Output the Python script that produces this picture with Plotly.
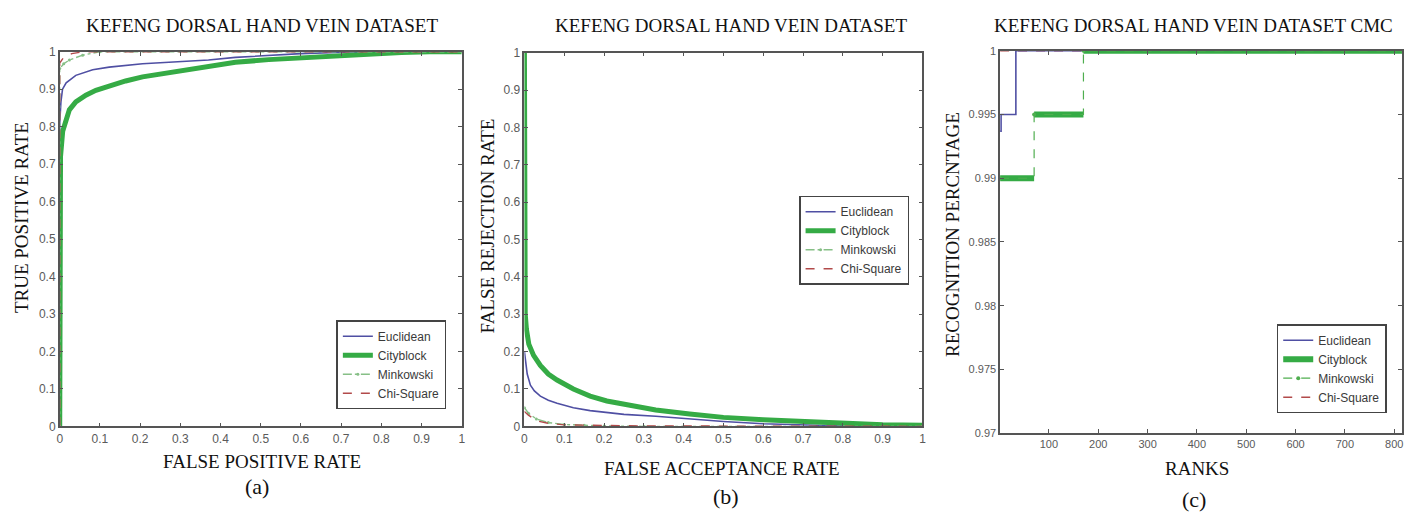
import plotly.graph_objects as go

# ---------------- data ----------------
# Panel (a): ROC
roc_euc_fpr = [0, 0, 0.003, 0.007, 0.016, 0.04, 0.082, 0.123, 0.206, 0.288, 0.37, 0.437, 0.52, 0.6, 0.69, 0.8, 1.0]
roc_euc_tpr = [0, 0.81, 0.866, 0.9, 0.917, 0.937, 0.952, 0.959, 0.968, 0.972, 0.978, 0.985, 0.991, 0.995, 0.998, 1.0, 1.0]
roc_city_fpr = [0, 0, 0.002, 0.0074, 0.016, 0.024, 0.04, 0.065, 0.09, 0.123, 0.164, 0.206, 0.288, 0.37, 0.437, 0.52, 0.6, 0.69, 0.77, 0.85, 0.92, 1.0]
roc_city_tpr = [0, 0.6, 0.72, 0.788, 0.823, 0.845, 0.866, 0.884, 0.897, 0.909, 0.922, 0.933, 0.948, 0.96, 0.972, 0.979, 0.984, 0.988, 0.994, 0.998, 1.0, 1.0]
roc_mink_fpr = [0, 0, 0.01, 0.024, 0.057, 0.1, 1.0]
roc_mink_tpr = [0, 0.955, 0.968, 0.978, 0.991, 1.0, 1.0]
roc_chi_fpr = [0, 0, 0.01, 0.03, 0.06, 1.0]
roc_chi_tpr = [0, 0.97, 0.985, 0.995, 1.0, 1.0]

# Panel (b): FRR vs FAR
det_euc_far = [0, 0.003, 0.007, 0.015, 0.025, 0.04, 0.06, 0.082, 0.123, 0.165, 0.207, 0.25, 0.33, 0.415, 0.5, 0.6, 0.7, 0.8, 1.0]
det_euc_frr = [0.2, 0.17, 0.14, 0.11, 0.095, 0.081, 0.07, 0.062, 0.05, 0.042, 0.037, 0.032, 0.027, 0.02, 0.013, 0.007, 0.003, 0.001, 0.0]
det_city_far = [0, 0, 0.002, 0.005, 0.011, 0.023, 0.04, 0.06, 0.082, 0.123, 0.165, 0.207, 0.25, 0.33, 0.415, 0.5, 0.6, 0.7, 0.8, 0.9, 1.0]
det_city_frr = [1.0, 0.4, 0.3, 0.26, 0.22, 0.19, 0.163, 0.14, 0.124, 0.1, 0.081, 0.068, 0.059, 0.044, 0.033, 0.024, 0.018, 0.014, 0.007, 0.004, 0.003]
det_mink_far = [0, 0.01, 0.03, 0.06, 0.1, 0.15, 0.2, 0.3, 1.0]
det_mink_frr = [0.05, 0.035, 0.02, 0.01, 0.005, 0.003, 0.001, 0.0, 0.0]
det_chi_far = [0, 0.01, 0.03, 0.06, 0.1, 0.2, 0.3, 1.0]
det_chi_frr = [0.04, 0.03, 0.015, 0.008, 0.004, 0.002, 0.001, 0.0]

# Panel (c): CMC (step breakpoints)
cmc_euc_rank = [1, 3, 33, 816]
cmc_euc = [0.9937, 0.995, 1.0, 1.0]
cmc_city_rank = [1, 70, 170, 816]
cmc_city = [0.99, 0.995, 1.0, 1.0]
cmc_mink_rank = [1, 70, 170, 816]
cmc_mink = [0.99, 0.995, 1.0, 1.0]
cmc_chi_rank = [1, 816]
cmc_chi = [1.0, 1.0]

series_names = ["Euclidean", "Cityblock", "Minkowski", "Chi-Square"]
rate_ticks = [0, 0.1, 0.2, 0.3, 0.4, 0.5, 0.6, 0.7, 0.8, 0.9, 1.0]
rate_tick_text = ["0", "0.1", "0.2", "0.3", "0.4", "0.5", "0.6", "0.7", "0.8", "0.9", "1"]
rank_ticks = [100, 200, 300, 400, 500, 600, 700, 800]
cmc_ticks = [0.97, 0.975, 0.98, 0.985, 0.99, 0.995, 1.0]
cmc_tick_text = ["0.97", "0.975", "0.98", "0.985", "0.99", "0.995", "1"]

# ---------------- style ----------------
W, H = 1427, 518
EUC = "#4f4fa3"
CITY = "#35ab45"
MINK = "#4fae4f"
MINK_A = "#86bf86"
CHI = "#b24a4a"
SERIF = "Liberation Serif, Times New Roman, serif"
SANS = "Liberation Sans Narrow, Arial Narrow, Liberation Sans, Arial, sans-serif"


def px_x(p):
    return p / W


def px_y(p):
    return 1 - p / H


fig = go.Figure()

# Panel (a)
fig.add_trace(go.Scatter(x=roc_euc_fpr, y=roc_euc_tpr, mode="lines", name=series_names[0],
                         line=dict(color=EUC, width=1.6), xaxis="x", yaxis="y", legend="legend", legendrank=1))
fig.add_trace(go.Scatter(x=roc_city_fpr, y=roc_city_tpr, mode="lines", name=series_names[1],
                         line=dict(color=CITY, width=5), xaxis="x", yaxis="y", legend="legend", legendrank=2))
fig.add_trace(go.Scatter(x=roc_mink_fpr, y=roc_mink_tpr, mode="lines+markers", name=series_names[2],
                         line=dict(color=MINK_A, width=1.4, dash="dashdot"), marker=dict(size=3, color=MINK_A),
                         xaxis="x", yaxis="y", legend="legend", legendrank=3))
fig.add_trace(go.Scatter(x=roc_chi_fpr, y=roc_chi_tpr, mode="lines", name=series_names[3],
                         line=dict(color=CHI, width=1.4, dash="dash"), xaxis="x", yaxis="y",
                         legend="legend", legendrank=4))

# Panel (b)
fig.add_trace(go.Scatter(x=det_euc_far, y=det_euc_frr, mode="lines", name=series_names[0],
                         line=dict(color=EUC, width=1.6), xaxis="x2", yaxis="y2", legend="legend2", legendrank=1))
fig.add_trace(go.Scatter(x=det_city_far, y=det_city_frr, mode="lines", name=series_names[1],
                         line=dict(color=CITY, width=5), xaxis="x2", yaxis="y2", legend="legend2", legendrank=2))
fig.add_trace(go.Scatter(x=det_mink_far, y=det_mink_frr, mode="lines+markers", name=series_names[2],
                         line=dict(color=MINK_A, width=1.4, dash="dashdot"), marker=dict(size=3, color=MINK_A),
                         xaxis="x2", yaxis="y2", legend="legend2", legendrank=3))
fig.add_trace(go.Scatter(x=det_chi_far, y=det_chi_frr, mode="lines", name=series_names[3],
                         line=dict(color=CHI, width=1.4, dash="dash"), xaxis="x2", yaxis="y2",
                         legend="legend2", legendrank=4))

# Panel (c)
city_seg_x, city_seg_y = [], []
for i in range(len(cmc_city_rank) - 1):
    city_seg_x += [cmc_city_rank[i], cmc_city_rank[i + 1], None]
    city_seg_y += [cmc_city[i], cmc_city[i], None]

fig.add_trace(go.Scatter(x=cmc_chi_rank, y=cmc_chi, mode="lines", name=series_names[3],
                         line=dict(color=CHI, width=1.6, dash="dash"), xaxis="x3", yaxis="y3",
                         legend="legend3", legendrank=4))
fig.add_trace(go.Scatter(x=cmc_euc_rank, y=cmc_euc, mode="lines", name=series_names[0],
                         line=dict(color=EUC, width=1.6, shape="hv"), xaxis="x3", yaxis="y3",
                         legend="legend3", legendrank=1))
fig.add_trace(go.Scatter(x=city_seg_x, y=city_seg_y, mode="lines", name=series_names[1],
                         line=dict(color=CITY, width=6), xaxis="x3", yaxis="y3",
                         legend="legend3", legendrank=2))
fig.add_trace(go.Scatter(x=cmc_mink_rank, y=cmc_mink, mode="lines+markers", name=series_names[2],
                         line=dict(color=MINK, width=1.2, dash="dash", shape="hv"),
                         marker=dict(size=4, color=MINK), xaxis="x3", yaxis="y3",
                         legend="legend3", legendrank=3))

axis_common = dict(showline=True, linecolor="#555555", linewidth=1.5, mirror="ticks",
                   ticks="inside", ticklen=4, tickwidth=1, tickcolor="#555555",
                   showgrid=False, zeroline=False,
                   tickfont=dict(family=SANS, size=12, color="#5a5a5a"))
axis_c = dict(axis_common)
axis_c["tickfont"] = dict(family=SANS, size=11, color="#5a5a5a")

legend_common = dict(bgcolor="white", bordercolor="#444444", borderwidth=1.5,
                     font=dict(family=SANS, size=12, color="#3a3a3a"),
                     xanchor="left", yanchor="top", tracegroupgap=0)

fig.update_layout(
    width=W, height=H,
    margin=dict(l=0, r=0, t=0, b=0),
    paper_bgcolor="white", plot_bgcolor="white",
    xaxis=dict(domain=[px_x(57), px_x(461)], range=[0, 1], tickvals=rate_ticks, ticktext=rate_tick_text,
               anchor="y", **axis_common),
    yaxis=dict(domain=[px_y(431), px_y(46)], range=[0, 1], tickvals=rate_ticks, ticktext=rate_tick_text,
               anchor="x", **axis_common),
    xaxis2=dict(domain=[px_x(524), px_x(924)], range=[0, 1], tickvals=rate_ticks, ticktext=rate_tick_text,
                anchor="y2", **axis_common),
    yaxis2=dict(domain=[px_y(431), px_y(47)], range=[0, 1], tickvals=rate_ticks, ticktext=rate_tick_text,
                anchor="x2", **axis_common),
    xaxis3=dict(domain=[px_x(1002), px_x(1406)], range=[1, 816], tickvals=rank_ticks,
                anchor="y3", **axis_c),
    yaxis3=dict(domain=[px_y(438), px_y(45)], range=[0.97, 1.0], tickvals=cmc_ticks, ticktext=cmc_tick_text,
                anchor="x3", **axis_c),
    legend=dict(x=px_x(335), y=px_y(322), **legend_common),
    legend2=dict(x=px_x(800), y=px_y(194), **legend_common),
    legend3=dict(x=px_x(1280), y=px_y(326), **legend_common),
    showlegend=True,
)

texts = [
    # (text, x px, y px, size, angle)
    ("KEFENG DORSAL HAND VEIN DATASET", 260, 19, 19, 0),
    ("KEFENG DORSAL HAND VEIN DATASET", 732, 19, 19, 0),
    ("KEFENG DORSAL HAND VEIN DATASET CMC", 1196, 19, 19, 0),
    ("FALSE POSITIVE RATE", 260, 467, 19, 0),
    ("FALSE ACCEPTANCE RATE", 723, 474, 19, 0),
    ("RANKS", 1200, 474, 19, 0),
    ("(a)", 255, 493, 22, 0),
    ("(b)", 727, 503, 22, 0),
    ("(c)", 1197, 506, 22, 0),
    ("TRUE POSITIVE RATE", 18, 216, 19, -90),
    ("FALSE REJECTION RATE", 487, 225, 19, -90),
    ("RECOGNITION PERCNTAGE", 954, 234, 19, -90),
]
for t, x, y, s, a in texts:
    fig.add_annotation(text=t, x=px_x(x), y=px_y(y), xref="paper", yref="paper",
                       xanchor="center", yanchor="middle", showarrow=False, textangle=a,
                       font=dict(family=SERIF, size=s, color="#111111"))

fig.write_html("out.html", config={"displayModeBar": False},
               post_script="document.body.style.margin='0px';document.body.style.overflow='hidden';")
